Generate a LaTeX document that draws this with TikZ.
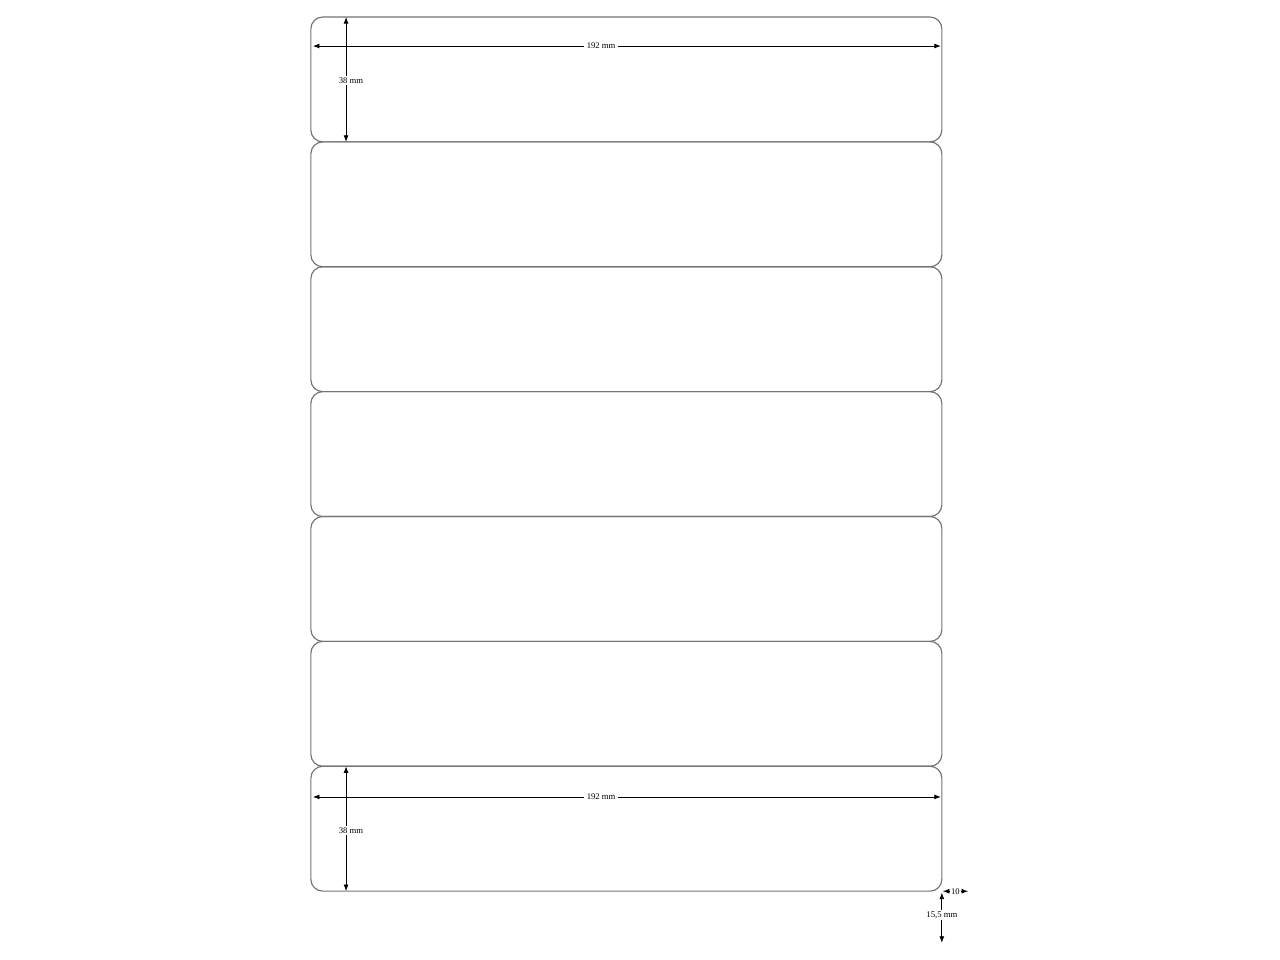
\documentclass[tikz,border=0pt]{standalone}
\usepackage{fontspec}
\setmainfont{Liberation Serif}
\usetikzlibrary{arrows.meta}

\begin{document}
\begin{tikzpicture}[x=1mm, y=-1mm, every node/.style={font=\fontsize{7.5}{9}\selectfont},
	labelbox/.style={draw=black!55, line width=1pt, rounded corners=3.6mm, minimum width=192mm, minimum height=38mm, inner sep=0pt},
	dimline/.style={{Latex[length=2mm,width=1.5mm]}-{Latex[length=2mm,width=1.5mm]}, line width=0.7pt},
	dimtext/.style={fill=white, inner xsep=2.5pt, inner ysep=1.5pt}]
	\useasboundingbox (0,0) rectangle (389.5,292.1);

	% Labels
	\foreach \i in {1,...,7}
		\node[labelbox] (l\i) at (190.6, 24.17+38*\i-38) {};

	% Dimensions, top label
	\coordinate (w1a) at (95.2, 14.0);
	\coordinate (w1b) at (286.3, 14.0);
	\coordinate (h1a) at (105.3, 5.17);
	\coordinate (h1b) at (105.3, 43.17);
	\draw[dimline] (w1a) -- node[dimtext, pos=0.459] {192 mm} (w1b);
	\draw[dimline] (h1a) -- node[dimtext, xshift=1.5mm, yshift=-0.3mm] {38 mm} (h1b);

	% Dimensions, bottom label
	\coordinate (w7a) at (95.2, 242.5);
	\coordinate (w7b) at (286.3, 242.5);
	\coordinate (h7a) at (105.3, 233.17);
	\coordinate (h7b) at (105.3, 271.17);
	\draw[dimline] (w7a) -- node[dimtext, pos=0.459] {192 mm} (w7b);
	\draw[dimline] (h7a) -- node[dimtext, xshift=1.5mm, yshift=-0.6mm] {38 mm} (h7b);

	% Margins
	\coordinate (ma) at (286.9, 271.2);
	\coordinate (mb) at (294.6, 271.2);
	\coordinate (mc) at (286.6, 271.6);
	\coordinate (md) at (286.6, 286.9);
	\draw[dimline] (ma) -- node[dimtext, inner xsep=0.8pt] {10} (mb);
	\draw[dimline] (mc) -- node[dimtext, pos=0.45, inner xsep=0.5pt] {15,5 mm} (md);
\end{tikzpicture}
\end{document}
